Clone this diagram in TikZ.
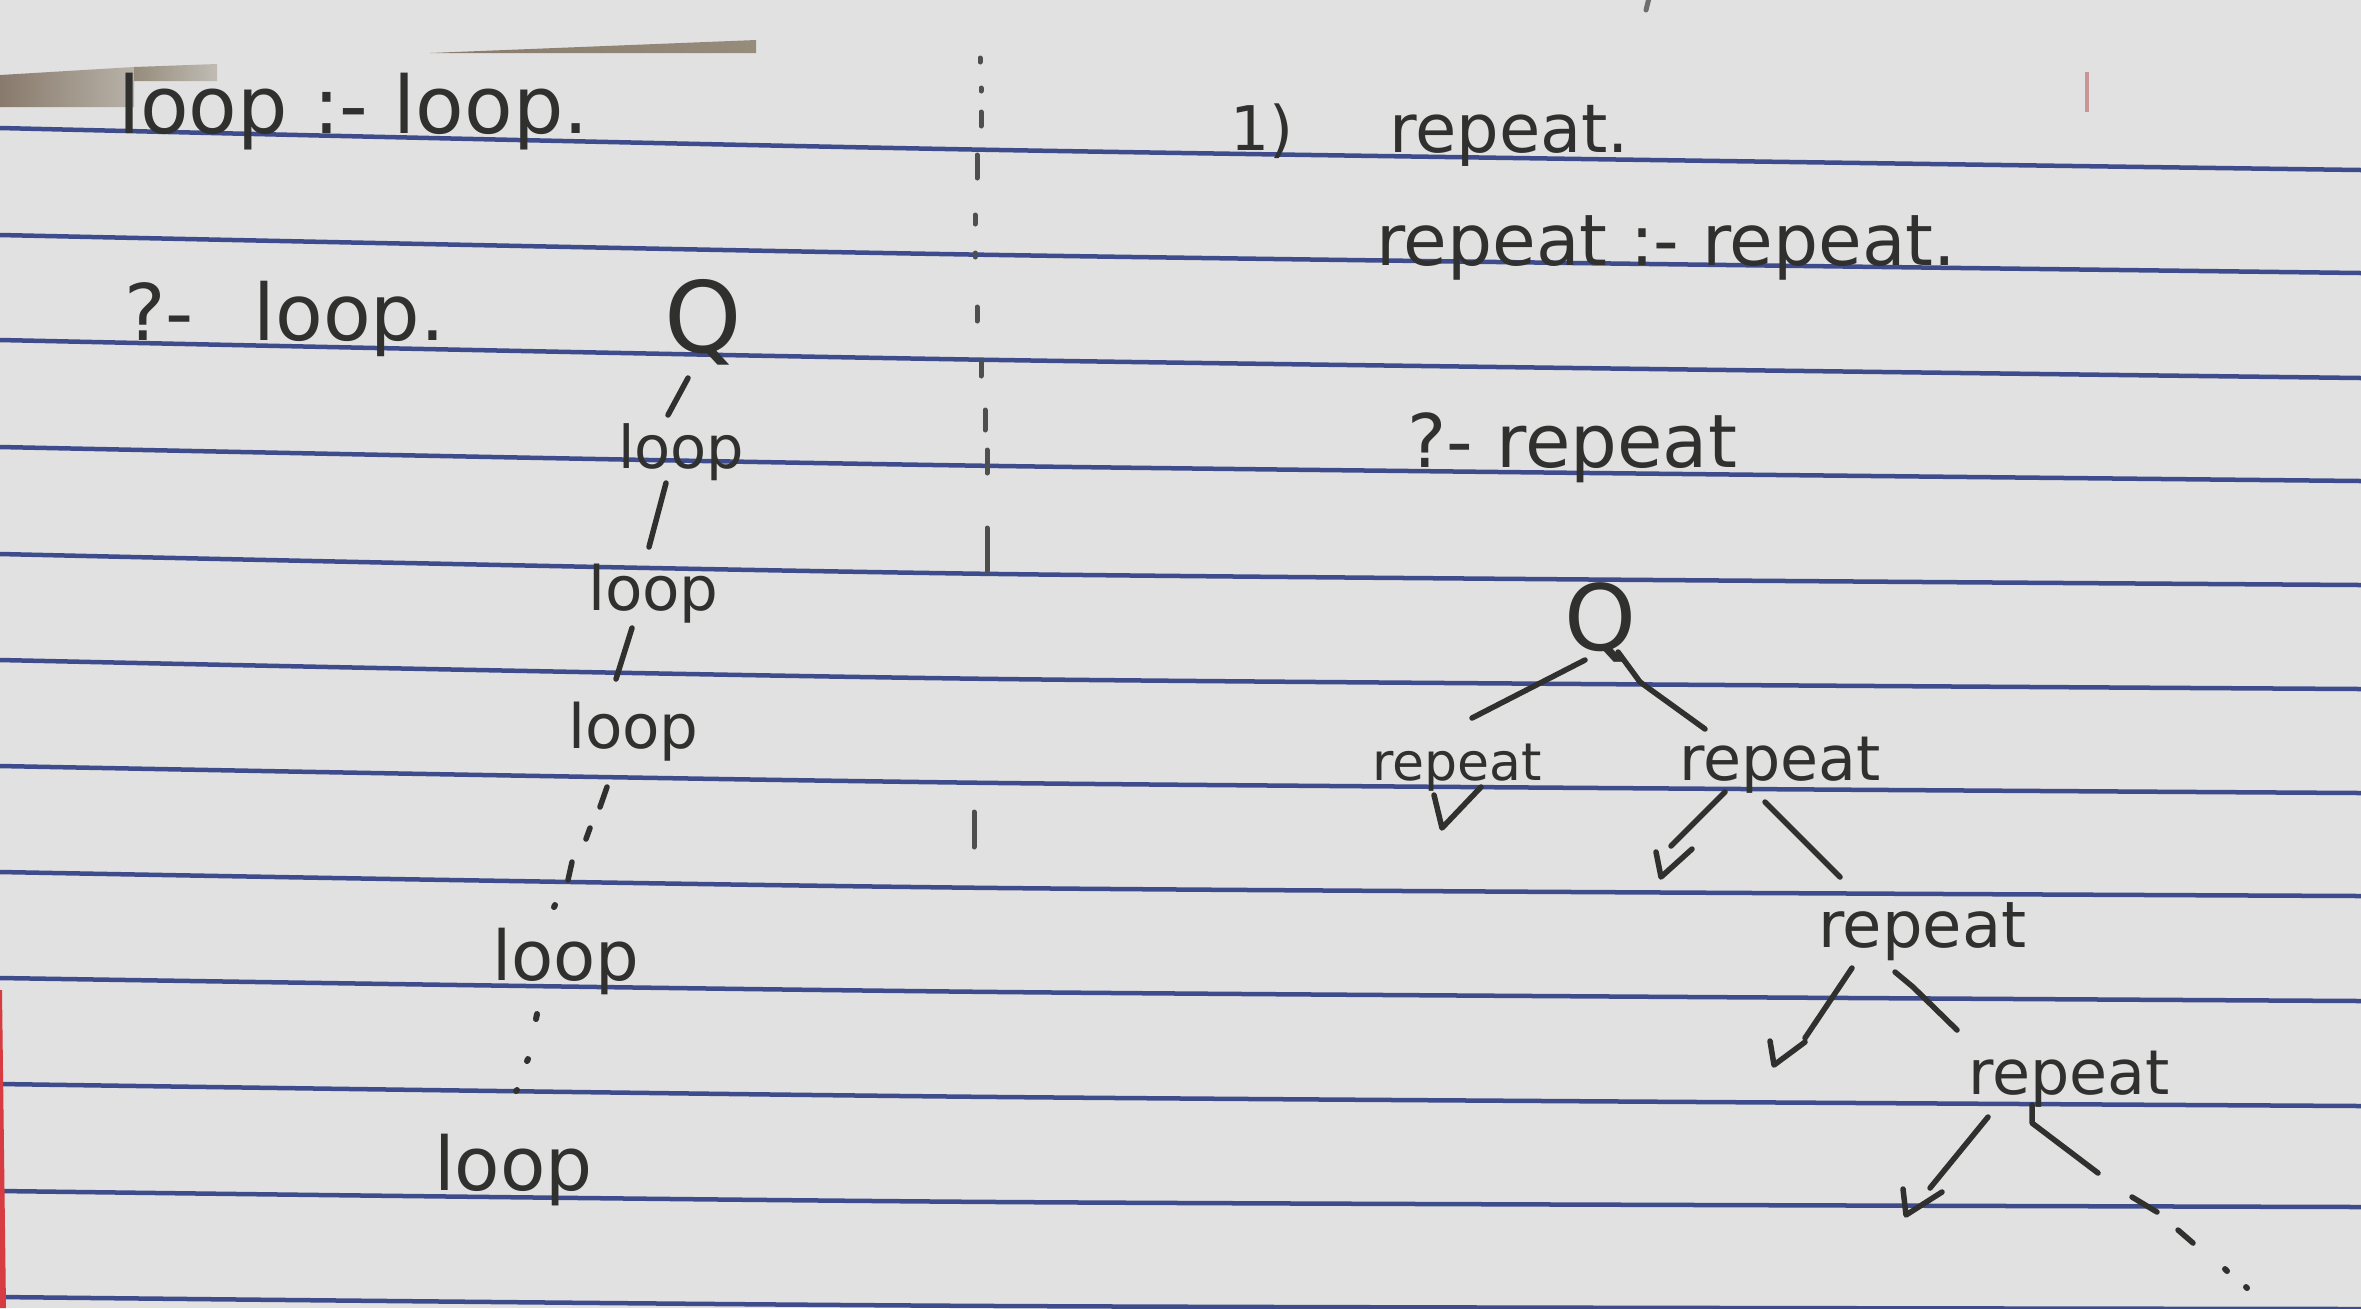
\documentclass[tikz,border=0pt]{standalone}
\usepackage{fontspec}
\setmainfont{DejaVu Sans}
\newcommand\handsz[1]{\fontsize{#1}{#1}\selectfont}
\definecolor{paper}{RGB}{225,225,225}
\definecolor{rulecol}{RGB}{62,76,140}
\definecolor{inkcol}{RGB}{48,48,46}
\definecolor{patchA}{RGB}{136,122,108}
\definecolor{patchB}{RGB}{184,178,168}
\definecolor{patchC}{RGB}{150,140,124}
\definecolor{patchD}{RGB}{192,188,180}
\definecolor{marginred}{RGB}{214,60,66}
\definecolor{pinkmark}{RGB}{200,150,150}
\tikzset{
  rule/.style={draw=rulecol, line width=0.045cm},
  ink/.style={draw=inkcol, line width=0.055cm, line cap=round, line join=round},
  inkdot/.style={draw=inkcol, line width=0.06cm, line cap=round},
  txt/.style={anchor=base west, inner sep=0pt, outer sep=0pt, text=inkcol}
}
\begin{document}
\begin{tikzpicture}[x=0.01cm,y=-0.01cm]
\useasboundingbox (0,0) rectangle (2361,1308);
\clip (0,0) rectangle (2361,1308);
\fill[paper] (0,0) rectangle (2361,1308);

% ruled lines
\foreach \a/\b/\c in {128/150/170,235/255/273,340/360/378,447/466/481,554/574/585,660/679/689,766/783/793,872/888/896,978/992/1001,1084/1097/1106,1191/1202/1207,1297/1306/1309}
  \draw[rule] plot[smooth] coordinates {(0,\a) (1000,\b) (2361,\c)};

% red margin and marks
\fill[marginred] (0,990) -- (2,990) -- (6,1308) -- (0,1308) -- cycle;
\draw[pinkmark, line width=0.04cm] (2087,72) -- (2087,112);
\draw[inkcol!70, line width=0.05cm, line cap=round] (1649,-2) -- (1646,10);

% pixelated patches at top
\shade[left color=patchA, right color=patchB] (0,75) -- (134,67) -- (134,107) -- (0,107) -- cycle;
\shade[left color=patchC, right color=patchD] (134,67) -- (217,64) -- (217,81) -- (134,81) -- cycle;
\shade[left color=patchA, right color=patchC] (430,53) -- (756,40) -- (756,53) -- cycle;

% vertical dashed divider
\foreach \x/\ya/\yb in {980/58/62,981/88/91,981/112/126,977/155/178,975/215/224,975/253/257,977/307/321,981/362/376,985/410/430,987/450/473,987/528/571,974/812/847}
  \draw[inkcol!85, line width=0.05cm, line cap=round] (\x,\ya) -- (\x,\yb);

% ---------- left column ----------
\node[txt, font=\handsz{22.6}] (t1) at (118,133) {loop :- loop.};
\node[txt, font=\handsz{22.2}] (t2) at (124,340) {?- \hspace{0.45em}loop.};
\node[anchor=base, inner sep=0pt, text=inkcol, font=\handsz{28}] (qL) at (703,352) {Q};
\node[txt, font=\handsz{16.8}] (l1) at (618,468) {loop};
\node[txt, font=\handsz{17.4}] (l2) at (588,610) {loop};
\node[txt, font=\handsz{17.4}] (l3) at (568,748) {loop};
\node[txt, font=\handsz{19.6}] (l4) at (492,980) {loop};
\node[txt, font=\handsz{21.1}] (l5) at (434,1190) {loop};

\coordinate (a1) at (688,378); \coordinate (a2) at (668,415);
\coordinate (b1) at (666,483); \coordinate (b2) at (649,547);
\coordinate (c1) at (632,628); \coordinate (c2) at (616,679);
\draw[ink] (a1) -- (a2);
\draw[ink] (b1) -- (b2);
\draw[ink] (c1) -- (c2);
\coordinate (d1) at (607,787); \coordinate (d2) at (600,807);
\coordinate (d3) at (590,828); \coordinate (d4) at (586,839);
\coordinate (d5) at (572,862); \coordinate (d6) at (568,880);
\coordinate (d7) at (555,905);
\draw[ink] (d1) -- (d2);
\draw[ink] (d3) -- (d4);
\draw[ink] (d5) -- (d6);
\draw[inkdot] (d7) -- ++(-1,2);
\coordinate (e1) at (537,1014); \coordinate (e2) at (528,1059); \coordinate (e3) at (517,1090);
\draw[inkdot] (e1) -- ++(-1,5);
\draw[inkdot] (e2) -- ++(-1,2);
\draw[inkdot] (e3) -- ++(-1,1);

% ---------- right column ----------
\node[txt, font=\handsz{17.5}] (n1) at (1230,150) {1)};
\node[txt, font=\handsz{19.1}] (r0) at (1389,152) {repeat.};
\node[txt, font=\handsz{20.2}] (r1) at (1376,265) {repeat :- repeat.};
\node[txt, font=\handsz{21}] (r2) at (1407,467) {?- repeat};

\node[anchor=base, inner sep=0pt, text=inkcol, font=\handsz{26}] (qR) at (1600,650) {Q};
\node[txt, font=\handsz{14.8}] (rL1) at (1372,780) {repeat};
\node[txt, font=\handsz{17.6}] (rR1) at (1679,780) {repeat};
\node[txt, font=\handsz{18.2}] (rR2) at (1818,947) {repeat};
\node[txt, font=\handsz{17.6}] (rR3) at (1968,1094) {repeat};

% Q branches
\coordinate (q1) at (1585,660); \coordinate (q2) at (1472,718);
\draw[ink] (q1) -- (q2);
\coordinate (q3) at (1618,652); \coordinate (q4) at (1640,682); \coordinate (q5) at (1705,729);
\draw[ink] (q3) -- (q4) -- (q5);
% check under left repeat
\coordinate (k1) at (1434,795); \coordinate (k2) at (1442,828); \coordinate (k3) at (1481,787);
\draw[ink] (k1) -- (k2) -- (k3);
% under R1
\coordinate (f1) at (1725,792); \coordinate (f2) at (1671,846);
\draw[ink] (f1) -- (f2);
\coordinate (f3) at (1656,852); \coordinate (f4) at (1661,877); \coordinate (f5) at (1692,849);
\draw[ink] (f3) -- (f4) -- (f5);
\coordinate (f6) at (1765,802); \coordinate (f7) at (1840,877);
\draw[ink] (f6) -- (f7);
% under R2
\coordinate (g1) at (1852,968); \coordinate (g2) at (1805,1038);
\draw[ink] (g1) -- (g2);
\coordinate (g3) at (1770,1041); \coordinate (g4) at (1774,1065); \coordinate (g5) at (1805,1042);
\draw[ink] (g3) -- (g4) -- (g5);
\coordinate (g6) at (1895,972); \coordinate (g7) at (1913,987); \coordinate (g8) at (1957,1030);
\draw[ink] (g6) -- (g7) -- (g8);
% under R3
\coordinate (h1) at (1988,1117); \coordinate (h2) at (1930,1188);
\draw[ink] (h1) -- (h2);
\coordinate (h3) at (1903,1189); \coordinate (h4) at (1906,1215); \coordinate (h5) at (1942,1192);
\draw[ink] (h3) -- (h4) -- (h5);
\coordinate (h6) at (2032,1105); \coordinate (h7) at (2032,1123); \coordinate (h8) at (2098,1173);
\draw[ink] (h6) -- (h7) -- (h8);
% continuation dots
\coordinate (m1) at (2132,1197); \coordinate (m2) at (2157,1212);
\coordinate (m3) at (2178,1230); \coordinate (m4) at (2193,1243);
\coordinate (m5) at (2225,1269); \coordinate (m6) at (2246,1287);
\draw[ink] (m1) -- (m2);
\draw[ink] (m3) -- (m4);
\draw[inkdot] (m5) -- ++(2,2);
\draw[inkdot] (m6) -- ++(1,1);
\end{tikzpicture}
\end{document}
